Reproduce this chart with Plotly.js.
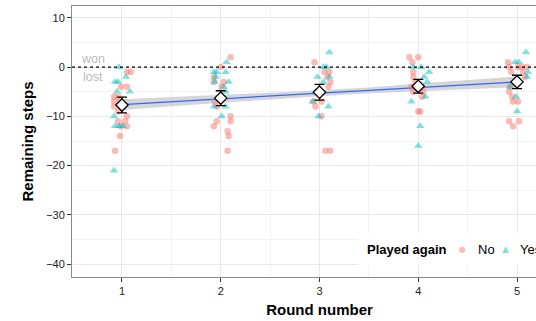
<!DOCTYPE html>
<html>
<head>
<meta charset="utf-8">
<script src="https://cdn.plot.ly/plotly-3.0.1.min.js"></script>
<style>
html,body{margin:0;padding:0;overflow:hidden;background:#fff;}
#chart{width:580px;height:321px;}
</style>
</head>
<body>
<div id="chart"></div>
<script>
// Jittered observations: Played again = No
const noX = [1.05,1.09,0.99,1.05,0.92,0.96,0.98,0.92,0.92,0.96,1.05,0.96,1.03,1.05,0.99,0.98,0.93,
  2.10,2.00,1.93,1.93,2.03,2.01,1.94,1.96,2.10,2.10,1.96,1.93,2.07,2.08,2.07,
  2.95,3.05,3.10,3.08,3.11,3.09,2.94,3.02,2.96,3.02,3.06,3.11,
  3.91,4.00,3.94,3.95,3.95,3.97,3.93,4.05,4.04,3.95,4.00,4.02,
  4.91,4.92,5.01,5.05,5.10,4.94,5.08,4.93,4.92,4.95,4.96,5.01,4.92,5.02,4.96,5.06];
const noY = [-1,-1,-4,-4,-6,-6,-7,-7,-8,-9,-10,-11,-11,-12,-12,-14,-17,
  2,0,-2,-3,-3,-4,-7,-8,-10,-11,-11,-12,-13,-14,-17,
  1,-1,-1,-2,-3,-4,-7,-7,-8,-10,-17,-17,
  2,2,1,-1,-2,-3,-4,-5,-6,-5,-9,-9,
  1,0,0,0,0,-1,-2,-4,-5,-6,-7,-7,-11,-11,-12,-1];
// Played again = Yes
const yesX = [0.97,0.93,0.96,1.04,0.95,1.08,0.92,0.93,0.97,1.01,0.92,
  2.06,1.93,1.96,2.05,1.95,1.94,2.08,2.03,2.05,1.93,2.05,2.01,
  3.10,3.04,3.07,2.98,3.10,3.04,2.93,3.09,2.99,2.96,
  3.95,4.03,4.11,4.09,4.07,3.93,4.02,4.00,4.06,
  5.09,4.98,5.02,5.11,5.10,4.93,4.99,5.00];
const yesY = [0,-3,-3,-2,-5,-5,-10,-12,-12,-12,-21,
  1,-1,-1,-1,-2,-3,-3,-4,-5,-8,-8,-10,
  3,0,0,-2,-2,-3,-7,-8,-10,-5,
  0,0,-1,-3,-6,-7,-12,-16,-2,
  3,1,1,-1,-2,-4,-6,-9];

// Round means with error bars
const rounds = [1,2,3,4,5];
const meanY = [-7.7,-6.3,-5.1,-3.9,-3.0];
const errY = [1.6,1.5,1.6,1.4,1.35];

// Linear fit with confidence band
const fitX = [1,1.5,2,2.5,3,3.5,4,4.5,5];
const fitY = [-7.6,-7.02,-6.45,-5.87,-5.3,-4.72,-4.15,-3.57,-3.0];
const fitLo = [-8.7,-7.95,-7.25,-6.55,-5.9,-5.32,-4.95,-4.5,-4.1];
const fitHi = [-6.5,-6.09,-5.65,-5.19,-4.7,-4.12,-3.35,-2.64,-1.9];

const tickVals = [1,2,3,4,5];
const yTicks = [10,0,-10,-20,-30,-40];
const legendTitle = 'Played again';
const groupNames = ['No','Yes'];
const groupColors = ['#F8766D','#00BFC4'];

const traces = [
  {x: fitX.concat(fitX.slice().reverse()), y: fitHi.concat(fitLo.slice().reverse()),
   type:'scatter', mode:'lines', fill:'toself', fillcolor:'rgba(153,153,153,0.4)',
   line:{width:0}, hoverinfo:'skip', showlegend:false},
  {x: fitX, y: fitY, type:'scatter', mode:'lines', line:{color:'#3366FF', width:1.2}, showlegend:false},
  {x: noX, y: noY, type:'scatter', mode:'markers', name:groupNames[0], showlegend:false,
   marker:{symbol:'circle', size:6.5, color:groupColors[0], opacity:0.5}},
  {x: yesX, y: yesY, type:'scatter', mode:'markers', name:groupNames[1], showlegend:false,
   marker:{symbol:'triangle-up', size:7.5, color:groupColors[1], opacity:0.5}},
  {x: rounds, y: meanY, type:'scatter', mode:'markers', showlegend:false,
   marker:{symbol:'diamond', size:9.5, color:'#ffffff', line:{color:'#000', width:1.3}},
   error_y:{type:'data', array:errY, visible:true, color:'#000', thickness:1.3, width:5}}
];

const font = 'Liberation Sans, Arial, sans-serif';
const legY = 0.103;
const layout = {
  width:580, height:321,
  margin:{l:72, r:13, t:6, b:44},
  paper_bgcolor:'#fff', plot_bgcolor:'#fff',
  font:{family:font, color:'#000'},
  xaxis:{range:[0.494,5.506], tickvals:tickVals, ticktext:tickVals.map(String),
    ticks:'outside', ticklen:4, tickcolor:'#333', tickfont:{size:11, color:'#222'},
    showgrid:true, gridcolor:'#e8e8e8', gridwidth:1,
    minor:{dtick:0.5, tick0:0.5, showgrid:true, gridcolor:'#f3f3f3', gridwidth:1, ticks:''},
    showline:true, mirror:true, linecolor:'#8a8a8a', linewidth:1, zeroline:false,
    title:{text:'Round number', font:{size:15, family:font, weight:'bold'}, standoff:8}},
  yaxis:{range:[-42.6,12.4], tickvals:yTicks,
    ticks:'outside', ticklen:4, tickcolor:'#333', tickfont:{size:11, color:'#222'},
    showgrid:true, gridcolor:'#e8e8e8', gridwidth:1,
    minor:{dtick:5, tick0:5, showgrid:true, gridcolor:'#f3f3f3', gridwidth:1, ticks:''},
    showline:true, mirror:true, linecolor:'#8a8a8a', linewidth:1, zeroline:false,
    title:{text:'Remaining steps', font:{size:15, family:font, weight:'bold'}, standoff:8}},
  shapes:[
    {type:'line', xref:'paper', x0:0, x1:1, yref:'y', y0:0, y1:0,
     line:{color:'#000', width:1.2, dash:'dot'}, layer:'above'},
    {type:'rect', xref:'paper', yref:'paper', x0:0.578, x1:1, y0:0.044, y1:0.162,
     fillcolor:'#ffffff', line:{width:0}, layer:'above'}
  ],
  annotations:[
    {x:0.706, y:1.7, xref:'x', yref:'y', text:'won', showarrow:false, font:{size:12.5, color:'#bbbbbb', family:font}},
    {x:0.706, y:-2.1, xref:'x', yref:'y', text:'lost', showarrow:false, font:{size:12.5, color:'#bbbbbb', family:font}},
    {x:0.592, y:legY, xref:'paper', yref:'paper', xanchor:'left', yanchor:'middle', text:'<b>'+legendTitle+'</b>',
     showarrow:false, font:{size:13, family:font, color:'#000'}},
    {x:0.788, y:legY, xref:'paper', yref:'paper', xanchor:'center', yanchor:'middle', text:'●',
     showarrow:false, font:{size:8, family:'DejaVu Sans', color:'rgba(248,118,109,0.5)'}},
    {x:0.816, y:legY, xref:'paper', yref:'paper', xanchor:'left', yanchor:'middle', text:groupNames[0],
     showarrow:false, font:{size:13, family:font, color:'#000'}},
    {x:0.875, y:legY, xref:'paper', yref:'paper', xanchor:'center', yanchor:'middle', text:'▲',
     showarrow:false, font:{size:9, family:'DejaVu Sans', color:'rgba(0,191,196,0.5)'}},
    {x:0.901, y:legY, xref:'paper', yref:'paper', xanchor:'left', yanchor:'middle', text:groupNames[1],
     showarrow:false, font:{size:13, family:font, color:'#000'}}
  ],
  showlegend:false
};

Plotly.newPlot('chart', traces, layout, {staticPlot:true, displayModeBar:false});
</script>
</body>
</html>
